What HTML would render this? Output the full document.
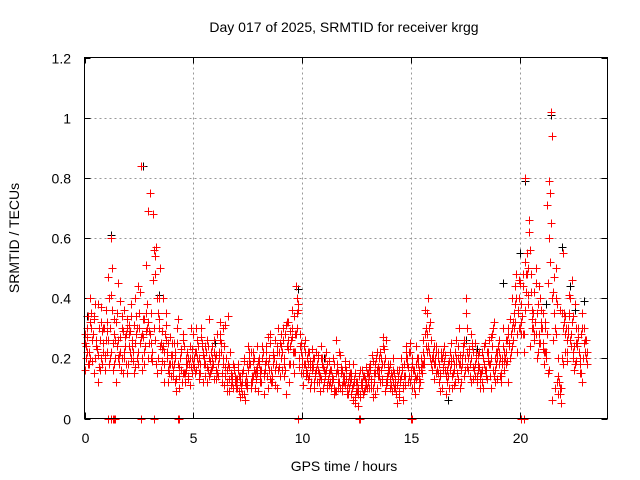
<!DOCTYPE html>
<html><head><meta charset="utf-8"><style>
html,body{margin:0;padding:0;background:#fff;}
svg{display:block;font-family:"Liberation Sans",sans-serif;}
</style></head><body>
<svg id="chart" width="640" height="480" viewBox="0 0 640 480" xmlns="http://www.w3.org/2000/svg">
<rect width="640" height="480" fill="#fff"/>
<text x="344" y="32" font-size="14" text-anchor="middle">Day 017 of 2025, SRMTID for receiver krgg</text>
<text x="344" y="471" font-size="14" text-anchor="middle">GPS time / hours</text>
<text x="19" y="238" font-size="14" text-anchor="middle" transform="rotate(-90 19 238)">SRMTID / TECUs</text>
<g id="grid"></g>
<g id="ticks"></g>
<g id="black"></g>
<g id="red"></g>
<rect x="84.5" y="57.5" width="523" height="361" fill="none" stroke="#000" stroke-width="1"/>
</svg>
<script>
const xTicks=[0,5,10,15,20];
const yTicks=[0,0.2,0.4,0.6,0.8,1,1.2];
const yTickLabels=["0","0.2","0.4","0.6","0.8","1","1.2"];
const startHour=0, stepHour=0.1;
// SRMTID values in hundredths of TECU, one per 0.1 h
const redA=[25,30,22,35,28,20,38,26,18,30,36,47,60,25,20,35,18,30,22,28,18,29,24,40,30,35,84,27,51,32,75,22,56,18,30,25,40,28,22,15,25,18,13,33,20,15,12,22,18,30,28,22,18,15,25,20,17,14,22,18,20,28,32,15,11,20,34,15,10,12,13,9,11,8,14,24,18,12,20,15,18,12,22,16,10,25,14,20,18,30,24,30,28,32,12,36,34,44,38,28,20,18,15,22,12,17,14,20,9,18,12,22,15,10,13,9,18,22,11,14,16,8,12,6,5,9,14,11,8,12,15,18,21,12,10,16,20,24,9,12,18,14,10,8,13,12,6,11,20,22,14,10,18,20,12,15,18,35,30,26,20,18,22,15,10,19,8,14,18,20,22,15,30,12,26,40,20,14,25,18,12,17,15,10,25,20,14,28,32,18,22,15,30,20,19,25,40,30,48,35,45,28,80,55,62,42,35,28,22,40,30,18,22,60,102,26,10,12,8,35,35,30,28,40,20,18,25,22,15,30,20];
const redB=[20,18,32,26,15,24,30,20,25,16,22,30,50,18,32,26,39,15,27,33,24,20,15,34,22,42,28,18,30,25,20,68,48,35,50,23,18,26,12,21,14,20,25,10,16,24,18,13,20,23,15,26,20,30,12,18,24,15,20,13,16,22,25,30,17,12,9,14,17,10,16,12,8,6,10,18,22,14,16,9,14,20,8,22,16,12,18,26,22,14,16,18,8,26,29,18,22,40,20,15,24,14,18,10,16,20,12,15,24,10,15,10,16,12,18,26,10,15,12,19,10,14,8,12,9,4,7,16,13,10,10,13,7,15,14,22,12,18,26,15,11,16,12,5,9,17,14,24,17,12,18,8,14,10,16,22,24,40,32,20,24,15,12,20,22,16,12,22,10,16,18,20,10,22,16,30,22,12,17,22,16,10,22,18,13,26,10,30,16,22,14,20,16,26,12,22,32,44,28,40,32,22,48,50,56,30,42,20,25,30,25,22,15,75,94,35,40,8,5,55,28,22,35,46,16,25,30,20,12,22,18];
const redC=[28,22,18,30,34,24,21,16,29,20,32,40,22,16,26,20,22,34,20,18,28,34,19,25,20,30,16,22,35,69,28,19,54,40,33,16,24,35,25,18,18,25,9,14,22,26,15,18,24,20,20,16,24,18,22,14,26,20,16,22,13,18,26,12,24,16,13,11,10,14,10,14,12,20,11,16,12,22,10,17,20,16,15,24,18,28,12,16,10,22,20,26,16,32,24,30,22,28,36,25,15,22,20,14,18,12,22,16,14,20,14,18,11,16,20,9,15,10,16,12,13,10,15,18,7,12,8,10,14,11,12,16,10,18,22,14,16,27,12,17,13,9,15,11,16,20,10,14,18,22,10,16,13,18,20,26,36,28,22,18,18,22,15,14,20,24,16,10,20,15,12,24,18,20,14,35,16,20,22,14,14,22,12,18,16,22,18,24,12,20,18,12,24,22,28,20,30,35,40,30,38,44,52,48,66,36,28,45,38,25,35,30,71,79,65,42,50,14,10,20,32,26,34,28,22,38,24,18,30,25,26];
const redD=[24,34,20,28,38,23,17,32,22,26,26,20,36,28,24,21,16,29,24,30,22,26,31,28,18,27,33,24,38,29,25,30,57,20,24,29,12,20,18,14,16,22,18,20,12,15,20,14,17,18,22,20,15,24,18,22,16,19,24,20,15,20,22,18,14,18,22,12,16,11,14,10,16,12,18,20,14,16,13,19,16,22,18,14,20,16,22,18,16,25,22,20,24,18,26,22,28,30,24,18,18,16,22,17,20,15,18,12,20,16,16,13,12,14,10,16,12,17,14,11,12,15,10,13,12,8,12,14,10,15,14,12,15,20,17,12,18,20,14,16,15,12,10,14,13,16,18,20,14,16,16,14,20,16,18,20,30,24,20,22,20,16,18,22,16,14,18,16,14,18,20,18,16,24,20,22,18,24,16,20,18,15,20,16,22,18,20,14,22,24,20,18,22,26,24,28,26,32,36,30,34,28,42,38,48,30,32,35,28,32,22,20,45,52,40,30,38,12,10,18,34,30,26,32,24,30,22,28,20,26,22];
const redE=[16,27,40,19,33,26,12,37,30,21,29,18,41,33,12,45,27,20,36,15,31,38,22,17,44,25,20,33,29,20,35,46,26,15,40,19,22,31,16,27,21,12,30,17,23,28,16,20,11,15,17,30,13,27,21,24,12,33,17,26,21,14,28,20,31,9,17,14,18,13,18,7,15,19,12,22,10,19,15,24,12,24,14,19,27,13,21,11,24,17,28,14,31,23,18,27,15,35,17,22,11,26,13,19,23,10,16,21,13,17,20,11,19,13,8,15,12,21,9,17,8,18,13,11,15,10,16,12,9,17,17,10,19,8,16,20,13,23,11,18,10,20,13,16,7,14,11,22,12,25,20,12,24,13,17,18,28,22,32,16,13,24,20,9,17,21,12,19,25,11,26,13,21,18,25,17,23,28,13,25,21,13,16,24,14,19,27,16,20,13,26,14,19,18,30,33,24,38,22,46,28,48,36,41,24,33,26,50,44,36,23,32,28,16,6,47,28,20,36,30,22,19,41,24,34,19,27,15,35,30];
const zeroHours=[1.1,1.2,1.3,1.35,1.4,2.6,3.2,4.3,4.35,9.8,12.6,12.65,15.0,15.05,20.05,20.15];
const blackHours=[1.2,2.7,3.4,20.2,21.4,21.9,22.3,22.9,5.1,9.8,17.5,0.6,13.5,16.7,20.0,19.2,0.1,6.0,11.0,18.0,22.5,21.2];
const blackValues=[0.61,0.84,0.41,0.79,1.01,0.57,0.44,0.39,0.30,0.43,0.26,0.12,0.20,0.06,0.55,0.45,0.34,0.25,0.20,0.23,0.36,0.38];

const X0=84.5,X1=607.5,Y0=418.5,Y1=57.5;
const xs=h=>X0+(h/24)*(X1-X0);
const ys=v=>Y0-(v/1.2)*(Y0-Y1);
const NS="http://www.w3.org/2000/svg";
function mk(tag,parent,attrs){const e=document.createElementNS(NS,tag);for(const k in attrs)e.setAttribute(k,attrs[k]);parent.appendChild(e);return e;}
const grid=document.getElementById('grid'),ticks=document.getElementById('ticks');
xTicks.forEach(t=>{const x=Math.round(xs(t))+0.5;
 if(t>0){const g=mk('line',grid,{x1:x,x2:x,y1:Y1,y2:Y0,stroke:'#999','stroke-dasharray':'2,3'});
 
 }
 mk('line',ticks,{x1:x,x2:x,y1:Y0,y2:Y0-6,stroke:'#000'});
 mk('line',ticks,{x1:x,x2:x,y1:Y1,y2:Y1+6,stroke:'#000'});
 const l=mk('text',ticks,{x:x,y:443,'font-size':14,'text-anchor':'middle'});l.textContent=t;
 
 });
yTicks.forEach((t,i)=>{const y=Math.round(ys(t))+0.5;
 if(t>0&&t<1.2){const g=mk('line',grid,{x1:X0,x2:X1,y1:y,y2:y,stroke:'#999','stroke-dasharray':'2,3'});
 
 }
 mk('line',ticks,{x1:X0,x2:X0+6,y1:y,y2:y,stroke:'#000'});
 mk('line',ticks,{x1:X1,x2:X1-6,y1:y,y2:y,stroke:'#000'});
 const l=mk('text',ticks,{x:71,y:y+5,'font-size':14,'text-anchor':'end'});l.textContent=yTickLabels[i];
 
 });
function plus(g,h,v,color,name){const x=Math.round(xs(h))+0.5,y=Math.round(ys(v))+0.5;
 const p=mk('path',g,{d:`M${x-4} ${y}h8M${x} ${y-4}v8`,stroke:color,'stroke-width':1,fill:'none'});
 
 }
const black=document.getElementById('black'),red=document.getElementById('red');
blackHours.forEach((h,i)=>plus(black,h,blackValues[i],'#000','black-point'));
[[redA,0],[redB,0.05],[redC,0.02],[redD,0.07],[redE,0.035]].forEach(([arr,off])=>{
 arr.forEach((v,i)=>plus(red,startHour+i*stepHour+off,v/100,'#f00','red-point'));});
zeroHours.forEach(h=>plus(red,h,0,'#f00','zero-point'));
</script>
</body></html>
